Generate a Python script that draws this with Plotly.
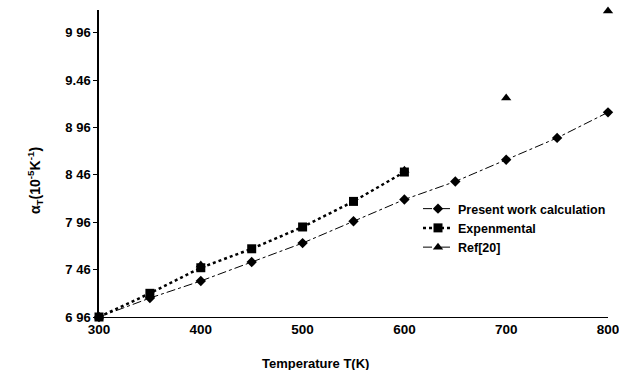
import plotly.graph_objects as go

# Data
temp_present = [300, 350, 400, 450, 500, 550, 600, 650, 700, 750, 800]
alpha_present = [6.96, 7.16, 7.34, 7.54, 7.74, 7.97, 8.20, 8.39, 8.62, 8.85, 9.12]

temp_exp = [300, 350, 400, 450, 500, 550, 600]
alpha_exp = [6.96, 7.21, 7.48, 7.68, 7.91, 8.18, 8.49]

temp_ref = [300, 400, 600, 700, 800]
alpha_ref = [6.96, 7.51, 8.51, 9.27, 10.19]

y_tickvals = [6.96, 7.46, 7.96, 8.46, 8.96, 9.46, 9.96]
y_ticktext = ["6 96", "7 46", "7 96", "8 46", "8 96", "9.46", "9 96"]
x_tickvals = [300, 400, 500, 600, 700, 800]

FONT = "Liberation Sans, Arial, sans-serif"

W, H = 619, 370
L, R, T, B = 99, 11, 10, 53

fig = go.Figure()
fig.add_trace(go.Scatter(
    x=temp_present, y=alpha_present, name="Present work calculation",
    mode="lines+markers",
    line=dict(color="black", width=1, dash="dashdot"),
    marker=dict(symbol="diamond", size=8, color="black"),
    cliponaxis=False,
))
fig.add_trace(go.Scatter(
    x=temp_exp, y=alpha_exp, name="Expenmental",
    mode="lines+markers",
    line=dict(color="black", width=2.5, dash="dot"),
    marker=dict(symbol="square", size=9, color="black"),
    cliponaxis=False,
))
fig.add_trace(go.Scatter(
    x=temp_ref, y=alpha_ref, name="Ref[20]",
    mode="markers", showlegend=False,
    marker=dict(symbol="triangle-up", size=9, color="black"),
    cliponaxis=False,
))
# legend entry for Ref[20]
fig.add_trace(go.Scatter(
    x=[None], y=[None], name="Ref[20]",
    mode="lines+markers",
    line=dict(color="black", width=1, dash="dash"),
    marker=dict(symbol="triangle-up", size=9, color="black"),
))

pw, ph = W - L - R, H - T - B


def px_to_paper(sx, sy):
    return (sx - L) / pw, (H - B - sy) / ph


ann_xt = px_to_paper(315, 363)
ann_yt = px_to_paper(35, 181)
leg = px_to_paper(418, 194)

fig.update_layout(
    width=W, height=H,
    margin=dict(l=L, r=R, t=T, b=B, autoexpand=False),
    plot_bgcolor="white", paper_bgcolor="white",
    font=dict(family=FONT, color="black"),
    legend=dict(
        x=leg[0], y=leg[1], xanchor="left", yanchor="top",
        bgcolor="rgba(0,0,0,0)",
        font=dict(size=12.5, family=FONT, weight="bold"),
        tracegroupgap=0,
    ),
    xaxis=dict(
        range=[300, 800], tickvals=x_tickvals,
        showgrid=False, zeroline=False, automargin=False,
        showline=True, linecolor="black", linewidth=1,
        ticks="", tickfont=dict(size=13.5, weight="bold"),
        ticklabeloverflow="allow",
    ),
    yaxis=dict(
        range=[6.96, 10.2], tickvals=y_tickvals, ticktext=y_ticktext,
        showgrid=False, zeroline=False, automargin=False,
        showline=True, linecolor="black", linewidth=1.5,
        ticks="outside", ticklen=4, tickcolor="black",
        tickfont=dict(size=13, weight="bold"),
    ),
    annotations=[
        dict(text="Temperature T(K)", x=ann_xt[0], y=ann_xt[1],
             xref="paper", yref="paper", xanchor="center", yanchor="middle",
             showarrow=False, font=dict(size=13, weight="bold")),
        dict(text="α<sub>T</sub>(10<sup>-5</sup>K<sup>-1</sup>)",
             x=ann_yt[0], y=ann_yt[1],
             xref="paper", yref="paper", textangle=-90,
             xanchor="center", yanchor="middle",
             showarrow=False, font=dict(size=14, weight="bold")),
    ],
)

fig.write_html(
    "out.html",
    config={"displayModeBar": False},
    post_script="document.body.style.margin='0';document.body.style.overflow='hidden';",
)
